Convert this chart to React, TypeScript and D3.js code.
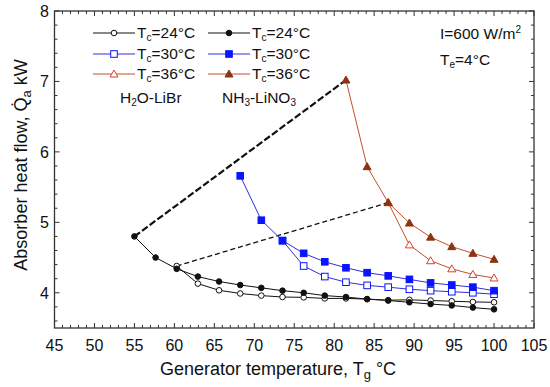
import React from "react";
import * as d3 from "d3";

// ---- data ----
const tempGrid = [55, 57.65, 60.29, 62.94, 65.59, 68.24, 70.88, 73.53, 76.18, 78.82, 81.47, 84.12, 86.76, 89.41, 92.06, 94.71, 97.35, 100];

const libr24 = [4.38, 4.13, 4.035, 3.99, 3.96, 3.94, 3.935, 3.92, 3.92, 3.91, 3.895, 3.90, 3.89, 3.88, 3.87, 3.865];
const libr24Start = 2;
const nh3_24 = [4.80, 4.50, 4.34, 4.23, 4.16, 4.11, 4.07, 4.03, 4.00, 3.96, 3.94, 3.91, 3.89, 3.865, 3.84, 3.82, 3.79, 3.765];
const nh3_24Start = 0;
const libr30 = [4.74, 4.38, 4.23, 4.15, 4.105, 4.08, 4.05, 4.03, 4.015, 4.00, 3.98];
const libr30Start = 7;
const nh3_30 = [5.66, 5.03, 4.74, 4.56, 4.44, 4.355, 4.285, 4.24, 4.19, 4.14, 4.11, 4.08, 4.03];
const nh3_30Start = 5;
const libr36 = [5.28, 4.68, 4.455, 4.34, 4.26, 4.21];
const libr36Start = 12;
const nh3_36 = [7.02, 5.79, 5.28, 4.99, 4.79, 4.655, 4.56, 4.475];
const nh3_36Start = 10;

const xTicks = [45, 50, 55, 60, 65, 70, 75, 80, 85, 90, 95, 100, 105];
const yTicks = [4, 5, 6, 7, 8];
const legendLabels = ["24", "30", "36"];

type Marker = "circle" | "square" | "triangle";
interface Series { ys: number[]; start: number; line: string; marker: Marker; fill: string; stroke: string; }

const BLACK = "#111";
const BLUE_LINE = "#3030d8";
const BLUE = "#0a14ff";
const RED_LINE = "#c0502c";
const RED_OPEN = "#d8402a";
const BROWN = "#8a3510";

const series: Series[] = [
  { ys: libr24, start: libr24Start, line: BLACK, marker: "circle", fill: "#fff", stroke: BLACK },
  { ys: nh3_24, start: nh3_24Start, line: BLACK, marker: "circle", fill: BLACK, stroke: BLACK },
  { ys: libr30, start: libr30Start, line: BLUE_LINE, marker: "square", fill: "#fff", stroke: BLUE },
  { ys: nh3_30, start: nh3_30Start, line: BLUE_LINE, marker: "square", fill: BLUE, stroke: BLUE },
  { ys: libr36, start: libr36Start, line: RED_LINE, marker: "triangle", fill: "#fff", stroke: RED_OPEN },
  { ys: nh3_36, start: nh3_36Start, line: RED_LINE, marker: "triangle", fill: BROWN, stroke: BROWN },
];

const W = 550, H = 387;
const L = 54.5, R = 534, T = 11, B = 328;
const FONT = "'Liberation Sans', Arial, sans-serif";

function MarkerShape({ m, x, y, fill, stroke }: { m: Marker; x: number; y: number; fill: string; stroke: string }) {
  if (m === "circle") return <circle cx={x} cy={y} r={2.8} fill={fill} stroke={stroke} strokeWidth={1} />;
  if (m === "square") return <rect x={x - 3.3} y={y - 3.3} width={6.6} height={6.6} fill={fill} stroke={stroke} strokeWidth={1} />;
  const s = 4;
  return <path d={`M${x},${y - s}L${x + s},${y + s * 0.75}L${x - s},${y + s * 0.75}Z`} fill={fill} stroke={stroke} strokeWidth={1} />;
}

export default function App() {
  const x = d3.scaleLinear().domain([45, 105]).range([L, R]);
  const y = d3.scaleLinear().domain([3.5, 8]).range([B, T]);
  const line = d3.line<[number, number]>().x(d => x(d[0])).y(d => y(d[1]));

  const pts = (s: Series): [number, number][] => s.ys.map((v, i) => [tempGrid[s.start + i], v]);

  const xMinor = d3.range(45, 106, 1);
  const yMinor = d3.range(3.6, 8.001, 0.2);

  const p1a = pts(series[1])[0], p1b = pts(series[5])[0];
  const p2a = pts(series[0])[0], p2b = pts(series[4])[0];

  const legendRows = [33, 54, 74];

  return (
    <svg width={W} height={H} style={{ position: "absolute", left: 0, top: 0, background: "#fff" }} fontFamily={FONT}>
      <rect x={0} y={0} width={W} height={H} fill="#fff" />
      {/* ticks */}
      {xMinor.map(v => {
        const major = v % 5 === 0;
        const len = major ? 5 : 3;
        return (
          <g key={"xt" + v} stroke="#333" strokeWidth={1}>
            <line x1={x(v)} x2={x(v)} y1={B} y2={B - len} />
            <line x1={x(v)} x2={x(v)} y1={T} y2={T + len} />
          </g>
        );
      })}
      {yMinor.map((v, i) => {
        const major = Math.abs(v - Math.round(v)) < 1e-6;
        const len = major ? 5 : 3;
        return (
          <g key={"yt" + i} stroke="#333" strokeWidth={1}>
            <line x1={L} x2={L + len} y1={y(v)} y2={y(v)} />
            <line x1={R} x2={R - len} y1={y(v)} y2={y(v)} />
          </g>
        );
      })}
      <rect x={L} y={T} width={R - L} height={B - T} fill="none" stroke="#333" strokeWidth={1.3} />
      {/* tick labels */}
      {xTicks.map(v => (
        <text key={"xl" + v} x={x(v)} y={350.5} textAnchor="middle" fontSize={16} fill="#111">{v}</text>
      ))}
      {yTicks.map(v => (
        <text key={"yl" + v} x={49} y={y(v) + 6} textAnchor="end" fontSize={16} fill="#111">{v}</text>
      ))}
      {/* axis titles */}
      <text x={278} y={375} textAnchor="middle" fontSize={18} fill="#111">
        Generator temperature, T<tspan fontSize={13} dy={4}>g</tspan><tspan dy={-4}> °C</tspan>
      </text>
      <text transform={`translate(27,165) rotate(-90)`} textAnchor="middle" fontSize={18} fill="#111">
        Absorber heat flow, Q̇<tspan fontSize={13} dy={4}>a</tspan><tspan dy={-4}> kW</tspan>
      </text>
      {/* dashed connector lines */}
      <line x1={x(p1a[0])} y1={y(p1a[1])} x2={x(p1b[0])} y2={y(p1b[1])} stroke="#111" strokeWidth={2.2} strokeDasharray="7,2.5" />
      <line x1={x(p2a[0])} y1={y(p2a[1])} x2={x(p2b[0])} y2={y(p2b[1])} stroke="#111" strokeWidth={1.3} strokeDasharray="5,3" />
      {/* series */}
      {series.map((s, k) => (
        <g key={"s" + k}>
          <path d={line(pts(s)) || ""} fill="none" stroke={s.line} strokeWidth={1} />
          {pts(s).map((p, i) => (
            <MarkerShape key={i} m={s.marker} x={x(p[0])} y={y(p[1])} fill={s.fill} stroke={s.stroke} />
          ))}
        </g>
      ))}
      {/* legend */}
      {legendLabels.map((lab, r) => {
        const left = series[r * 2], right = series[r * 2 + 1];
        const cy = legendRows[r];
        return (
          <g key={"lg" + r}>
            <line x1={93} x2={135} y1={cy} y2={cy} stroke={left.line} strokeWidth={1} />
            <MarkerShape m={left.marker} x={114} y={cy} fill={left.fill} stroke={left.stroke} />
            <text x={137} y={cy + 5} fontSize={15.5} fill="#111">T<tspan fontSize={10} dy={3}>c</tspan><tspan dy={-3}>={lab}°C</tspan></text>
            <line x1={208} x2={250} y1={cy} y2={cy} stroke={right.line} strokeWidth={1} />
            <MarkerShape m={right.marker} x={229} y={cy} fill={right.fill} stroke={right.stroke} />
            <text x={252} y={cy + 5} fontSize={15.5} fill="#111">T<tspan fontSize={10} dy={3}>c</tspan><tspan dy={-3}>={lab}°C</tspan></text>
          </g>
        );
      })}
      <text x={120} y={103} fontSize={15.5} fill="#111">H<tspan fontSize={10} dy={3}>2</tspan><tspan dy={-3}>O-LiBr</tspan></text>
      <text x={222} y={103} fontSize={15.5} fill="#111">NH<tspan fontSize={10} dy={3}>3</tspan><tspan dy={-3}>-LiNO</tspan><tspan fontSize={10} dy={3}>3</tspan></text>
      {/* annotations */}
      <text x={440} y={39} fontSize={15.5} fill="#111">I=600 W/m<tspan fontSize={10} dy={-6}>2</tspan></text>
      <text x={440} y={65} fontSize={15.5} fill="#111">T<tspan fontSize={10} dy={3}>e</tspan><tspan dy={-3}>=4°C</tspan></text>
    </svg>
  );
}
